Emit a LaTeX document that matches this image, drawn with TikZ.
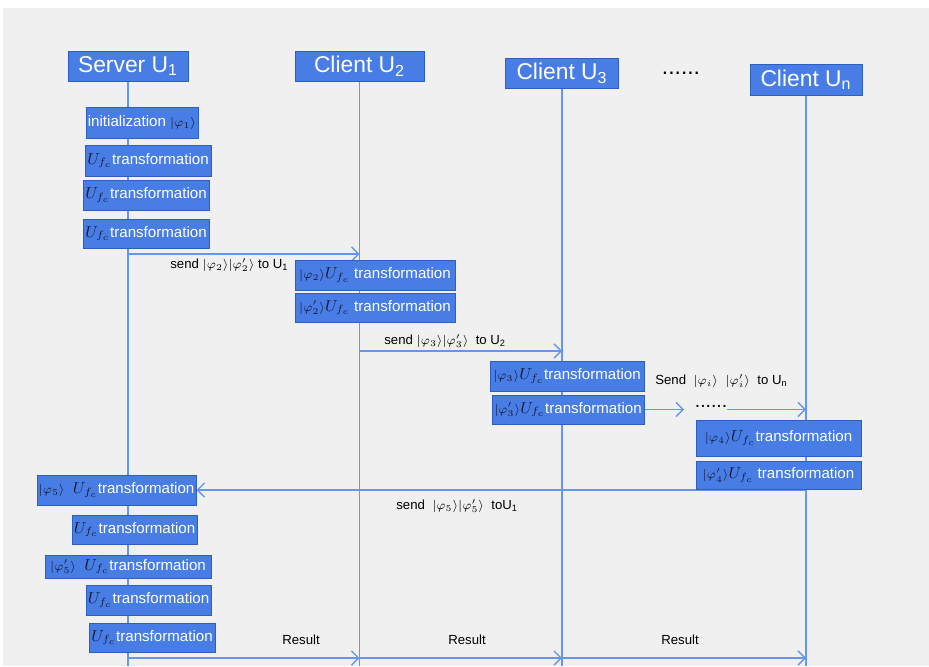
\documentclass[tikz,border=0pt]{standalone}
\usepackage{fontspec}
\setmainfont{Liberation Sans}
\usetikzlibrary{arrows.meta,backgrounds}
\definecolor{boxblue}{RGB}{72,125,230}
\definecolor{boxedge}{RGB}{45,95,190}
\definecolor{lineblue}{RGB}{100,150,240}
\definecolor{bggray}{RGB}{240,240,240}
\definecolor{mathdark}{RGB}{20,25,50}
% kets and gates, set a little smaller than the text
\newcommand{\qk}[1]{\textcolor{mathdark}{\fontsize{7.5}{9}\selectfont$|#1\rangle$}}
\newcommand{\Uf}{\textcolor{mathdark}{$U_{f_c}$}}
\newcommand{\lk}[1]{{\fontsize{7}{9}\selectfont$|#1\rangle$}}
\tikzset{
  head/.style={draw=boxedge,fill=boxblue,text=white,rectangle,minimum height=0.6cm,inner sep=1pt,font=\fontsize{13}{15}\selectfont},
  qbox/.style={draw=boxedge,fill=boxblue,text=white,rectangle,minimum height=0.6cm,inner sep=1pt,font=\fontsize{8.6}{10}\selectfont},
  life/.style={lineblue,line width=0.8pt},
  msg/.style={lineblue,line width=0.8pt,-{Straight Barb[length=4pt,width=8pt]}},
  lbl/.style={font=\fontsize{7.5}{9}\selectfont,inner sep=0pt,anchor=west}
}

\begin{document}
\begin{tikzpicture}[x=0.02cm,y=-0.02cm]
\useasboundingbox (0,0) rectangle (929,666);

% participants
\node [head,minimum width=2.4cm] (srv) at(128,66){Server U\textsubscript{1}};
\node [head,minimum width=2.58cm] (cl2) at(359.5,66){Client U\textsubscript{2}};
\node [head,minimum width=2.26cm] (cl3) at(562,73){Client U\textsubscript{3}};
\node [font=\fontsize{13}{15}\selectfont] (hdots) at(681,73){......};
\node [head,minimum width=2.24cm,minimum height=0.62cm] (cln) at(806,79.5){Client U\textsubscript{n}};
\coordinate (bot) at (0,666);

% server U1
\node [qbox,minimum width=2.2cm,minimum height=0.62cm] (init) at(142,122.5){initialization \qk{\varphi_1}};
\node [qbox,minimum width=2.52cm,minimum height=0.62cm] (sa) at(148,160.5){\Uf transformation};
\node [qbox,minimum width=2.52cm] (sb) at(146,195){\Uf transformation};
\node [qbox,minimum width=2.52cm,minimum height=0.58cm] (sc) at(146,233.5){\Uf transformation};

% client U2
\node [qbox,minimum width=3.2cm] (ua) at(375,275){\qk{\varphi_2}\Uf\ transformation};
\node [qbox,minimum width=3.2cm,minimum height=0.58cm] (ub) at(375,307.5){\qk{\varphi_2'}\Uf\ transformation};

% client U3
\node [qbox,minimum width=3.08cm] (va) at(567,376){\qk{\varphi_3}\Uf transformation};
\node [qbox,minimum width=3.04cm,minimum height=0.58cm] (vb) at(568,409.5){\qk{\varphi_3'}\Uf transformation};
\node [font=\fontsize{11}{12}\selectfont,inner sep=0pt] (dots2) at(711,406){......};

% client Un
\node [qbox,minimum width=3.3cm,minimum height=0.72cm] (wa) at(778.5,438){\qk{\varphi_4}\Uf transformation};
\node [qbox,minimum width=3.3cm,minimum height=0.56cm] (wb) at(778.5,475){\qk{\varphi_4'}\Uf\ transformation};

% back to server U1
\node [qbox,minimum width=3.18cm] (s5) at(116.5,490){\qk{\varphi_5}\ \ \Uf transformation};
\node [qbox,minimum width=2.5cm,minimum height=0.58cm] (s6) at(134.5,529.5){\Uf transformation};
\node [qbox,minimum width=3.32cm,minimum height=0.46cm] (s7) at(128,566.5){\qk{\varphi_5'}\ \ \Uf transformation};
\node [qbox,minimum width=2.5cm] (s8) at(148.5,600){\Uf transformation};
\node [qbox,minimum width=2.52cm,minimum height=0.58cm] (s9) at(152,637.5){\Uf transformation};

% labels
\node [lbl] (l1) at(170,265){send \lk{\varphi_2}\lk{\varphi_2'}\ to U\textsubscript{1}};
\node [lbl] (l2) at(384,341){send \lk{\varphi_3}\lk{\varphi_3'}\ \ to U\textsubscript{2}};
\node [lbl] (l3) at(655,381){Send \ \lk{\varphi_i}\ \ \lk{\varphi_i'}\ \ to U\textsubscript{n}};
\node [lbl] (l4) at(396,506){send \ \lk{\varphi_5}\lk{\varphi_5'}\ \ toU\textsubscript{1}};
\node [lbl,anchor=center] (r1) at(301,640){Result};
\node [lbl,anchor=center] (r2) at(467,640){Result};
\node [lbl,anchor=center] (r3) at(680,640){Result};

\coordinate (m1) at (0,254);
\coordinate (m2) at (0,351);
\coordinate (m5) at (0,658);

\begin{scope}[on background layer]
\fill [white] (0,0) rectangle (929,666);
\fill [bggray] (3,8) rectangle (929,666);
% lifelines
\draw [life] (srv.south) -- (srv.south |- bot);
\draw [life] (cl2.south) -- (cl2.south |- bot);
\draw [life] (cl3.south) -- (cl3.south |- bot);
\draw [life] (cln.south) -- (cln.south |- bot);
% messages
\draw [msg] (srv.south |- m1) -- (cl2.south |- m1);
\draw [msg] (cl2.south |- m2) -- (cl3.south |- m2);
\draw [msg,shorten >=6pt] (vb.east) -- (vb.east -| dots2.west);
\draw [msg] (vb.east -| dots2.east) -- (cln.south |- vb.east);
\draw [msg] (cln.south |- s5.east) -- (s5.east);
\draw [msg] (srv.south |- m5) -- (cl2.south |- m5);
\draw [msg] (cl2.south |- m5) -- (cl3.south |- m5);
\draw [msg] (cl3.south |- m5) -- (cln.south |- m5);
\end{scope}
\end{tikzpicture}
\end{document}
